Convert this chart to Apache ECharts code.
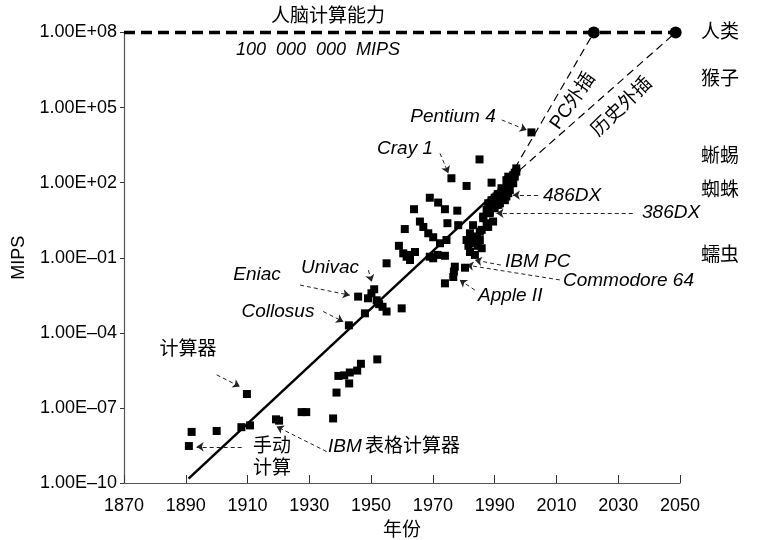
<!DOCTYPE html>
<html><head><meta charset="utf-8">
<script src="https://cdn.jsdelivr.net/npm/echarts@6/dist/echarts.min.js"></script>
<style>html,body{margin:0;padding:0;background:#fff}#c{width:763px;height:540px}</style>
</head><body><div id="c"></div>
<script>
// ---- data (year, MIPS) ----
const years = [
 1891.0,1891.9,1900.0,1908.0,1910.8,1909.8,1919.2,1920.2,1927.5,1929.0,
 1937.7,1938.8,1939.4,1941.3,1942.9,1943.1,1945.5,1946.7,1952.0,
 1942.8,1948.0,1945.8,1949.0,1950.1,1951.0,1951.8,1952.6,1953.7,1955.0,1959.9,
 1955.0,1959.0,1960.4,1962.6,1964.2,1962.6,1961.5,1969.0,1970.1,1973.9,1971.5,
 1960.9,1963.9,1965.8,1966.9,1968.5,1970.1,1972.3,1974.4,1974.7,1978.2,
 1969.0,1971.7,1973.9,1977.9,1976.0,1980.9,1985.1,1989.0,2001.9,
 1977.1,1976.8,1976.6,1973.9,1980.4,
 1980.9,1983.0,1985.2,1984.2,1982.0,1983.6,1985.8,1985.8,1987.4,1983.0,1982.0,1986.3,
 1981.5,1984.5,1983.0,
 1986.3,1988.4,1989.5,1987.9,1985.2,
 1987.4,1988.4,1987.9,1989.0,1990.6,1990.6,1991.2,1991.7,1992.2,1992.8,1993.3,1993.8,
 1993.8,1994.4,1994.9,1994.4,1996.0,1996.0,1996.5,1997.0,1997.0,1995.0,1992.0,
 1990.0,1991.0,1992.5,1993.0,1994.0,1995.5,1996.5,1988.8,1990.0,1991.5
];
const mips = [
 3.0e-9,1.1e-8,1.2e-8,1.7e-8,2.0e-8,3.6e-7,3.5e-8,3.1e-8,6.8e-8,6.8e-8,
 3.8e-8,4.1e-7,1.9e-6,2.0e-6,9.5e-7,2.6e-6,3.1e-6,5.8e-6,8.7e-6,
 2.0e-4,6.0e-4,2.8e-3,2.4e-3,3.8e-3,5.5e-3,2.0e-3,1.4e-3,1.1e-3,7.1e-4,9.5e-4,
 0.060,0.30,0.15,0.13,0.17,0.081,0.11,0.11,0.095,0.12,0.13,
 1.4,8.7,2.8,1.7,0.95,0.66,0.38,0.51,2.4,2.0,
 25,16,8.7,7.6,150,74,850,100,10200,
 0.044,0.028,0.017,0.0095,0.040,
 0.51,0.38,0.51,0.69,0.17,0.13,0.24,1.3,2.4,2.0,0.95,3.8,
 0.30,0.30,0.70,
 4.4,6.0,2.8,1.7,1.1,
 8.1,6.9,15,20,13,28,13,15,60,38,20,28,
 126,38,51,174,95,200,174,275,372,100,30,
 25,35,45,56,71,150,250,11,9.5,22
];
const trendYears = [1890.9, 1998.2];
const trendMips  = [1.5e-10, 324];
const histYears  = [1998.2, 2048.6];
const histMips   = [324, 1e8];
const pcYears    = [1996.5, 2022.1];
const pcMips     = [372, 1e8];
const brainYears = [1870, 2050];
const brainMips  = [1e8, 1e8];
const humanYears = [2022.1, 2048.6];
const humanMips  = [1e8, 1e8];
// annotation leader lines [fromYear, fromMips, toYear, toMips, curveness]
const leaders = [
 [1992.3, 3.2e4, 2000.4, 1.26e4, 0],   // Pentium 4
 [1972.3, 1480, 1975.0, 240, 0],       // Cray 1
 [2004.0, 32, 1995.9, 32, 0],          // 486DX
 [2034.7, 6.0, 1990.6, 6.0, 0],        // 386DX
 [1992.0, 0.051, 1983.6, 0.081, -0.4], // IBM PC
 [2011.1, 0.013, 1980.9, 0.051, -0.15],// Commodore 64
 [1983.6, 0.0051, 1978.7, 0.013, 0],   // Apple II
 [1949.1, 0.032, 1950.2, 0.011, 0],    // Univac
 [1927.0, 0.0081, 1943.1, 0.0032, 0],  // Eniac
 [1934.5, 7.1e-4, 1941.0, 2.8e-4, 0],  // Collosus
 [1900.0, 2.1e-6, 1907.5, 7.1e-7, 0],  // 计算器
 [1908.1, 2.8e-9, 1893.5, 2.8e-9, 0],  // 手动计算
 [1935.6, 1.8e-9, 1919.4, 1.8e-8, 0]   // IBM 表格计算器
];

const FONT = "'Liberation Sans', 'Noto Sans CJK SC', sans-serif";
const zip = (a, b) => a.map((v, i) => [v, b[i]]);

function fmtY(v) {
  const e = Math.round(Math.log10(v));
  return '1.00E' + (e < 0 ? '\u2013' : '+') + String(Math.abs(e)).padStart(2, '0');
}
function txt(x, y, s, opt) {
  opt = opt || {};
  return { type: 'text', x: x, y: y, rotation: opt.rot || 0, silent: true, z: 100,
    style: { text: s, fill: '#000', font: (opt.italic ? 'italic ' : '') + (opt.size || 19) + 'px ' + FONT,
      align: opt.align || 'center', verticalAlign: 'middle' } };
}

const chart = echarts.init(document.getElementById('c'), null, { renderer: 'canvas' });
chart.setOption({
  animation: false,
  backgroundColor: '#fff',
  grid: { left: 124, right: 83, top: 32.5, bottom: 57, containLabel: false, outerBoundsMode: 'none' },
  xAxis: {
    type: 'value', min: 1870, max: 2050, interval: 20,
    name: '年份', nameLocation: 'middle', nameGap: 38,
    nameTextStyle: { fontSize: 19, color: '#000', fontFamily: FONT },
    axisLine: { lineStyle: { color: '#555', width: 1.2 } },
    axisTick: { inside: true, length: 8, lineStyle: { color: '#333' } },
    axisLabel: { fontSize: 18, color: '#000', margin: 14, fontFamily: FONT, formatter: v => String(v) },
    splitLine: { show: false }
  },
  yAxis: {
    type: 'log', logBase: 10, min: 1e-10, max: 1e8, interval: 3,
    name: 'MIPS', nameLocation: 'middle', nameGap: 94, nameRotate: 90,
    nameTextStyle: { fontSize: 18, color: '#000', fontFamily: FONT },
    axisLine: { lineStyle: { color: '#555', width: 1.2 } },
    axisTick: { inside: false, length: 4, lineStyle: { color: '#333' } },
    axisLabel: { fontSize: 18, color: '#000', margin: 7, fontFamily: FONT, formatter: fmtY },
    splitLine: { show: false }, minorTick: { show: false }
  },
  series: [
    { type: 'line', data: zip(brainYears, brainMips), symbol: 'none', clip: false, z: 3,
      lineStyle: { color: '#000', width: 3.5, type: [11, 6] } },
    { type: 'line', data: zip(trendYears, trendMips), symbol: 'none', clip: false, z: 3,
      lineStyle: { color: '#000', width: 2.5 } },
    { type: 'line', data: zip(histYears, histMips), symbol: 'none', clip: false, z: 3,
      lineStyle: { color: '#000', width: 1.2, type: [8, 5] } },
    { type: 'line', data: zip(pcYears, pcMips), symbol: 'none', clip: false, z: 3,
      lineStyle: { color: '#000', width: 1.2, type: [8, 5] } },
    { type: 'scatter', data: zip(humanYears, humanMips), symbol: 'circle', symbolSize: 12, clip: false, z: 4,
      itemStyle: { color: '#000', opacity: 1 } },
    { type: 'scatter', data: zip(years, mips), symbol: 'rect', symbolSize: 8, clip: false, z: 5,
      itemStyle: { color: '#000', opacity: 1 },
      markLine: {
        silent: true, symbol: ['none', 'arrow'], symbolSize: 7, label: { show: false },
        lineStyle: { color: '#222', width: 1, type: [4, 3] },
        data: leaders.map(l => [
          { coord: [l[0], l[1]], lineStyle: { curveness: l[4] } },
          { coord: [l[2], l[3]] }
        ])
      } }
  ],
  graphic: [
    txt(328, 17, '人脑计算能力', { size: 19 }),
    txt(318, 50, '100  000  000  MIPS', { size: 18, italic: true }),
    txt(701, 33, '人类', { align: 'left' }),
    txt(701, 80, '猴子', { align: 'left' }),
    txt(701, 157, '蜥蜴', { align: 'left' }),
    txt(701, 191, '蜘蛛', { align: 'left' }),
    txt(701, 256, '蠕虫', { align: 'left' }),
    txt(573, 101, 'PC外插', { size: 19, rot: 55 * Math.PI / 180 }),
    txt(622, 107, '历史外插', { size: 19, rot: 44 * Math.PI / 180 }),
    txt(453, 117, 'Pentium 4', { italic: true }),
    txt(405, 149, 'Cray 1', { italic: true }),
    txt(543, 196, '486DX', { italic: true, align: 'left' }),
    txt(642, 213, '386DX', { italic: true, align: 'left' }),
    txt(505, 262, 'IBM PC', { italic: true, align: 'left' }),
    txt(563, 281, 'Commodore 64', { italic: true, align: 'left' }),
    txt(478, 296, 'Apple II', { italic: true, align: 'left' }),
    txt(330, 268, 'Univac', { italic: true }),
    txt(257, 275, 'Eniac', { italic: true }),
    txt(278, 312, 'Collosus', { italic: true }),
    txt(188, 350, '计算器'),
    txt(272, 447, '手动'),
    txt(272, 469, '计算'),
    { type: 'text', x: 328, y: 447, silent: true, z: 100,
      style: { text: '{i|IBM} {c|表格计算器}', verticalAlign: 'middle', align: 'left',
        rich: { i: { font: 'italic 19px ' + FONT, fill: '#000' }, c: { font: '19px ' + FONT, fill: '#000' } } } }
  ]
});
</script></body></html>
